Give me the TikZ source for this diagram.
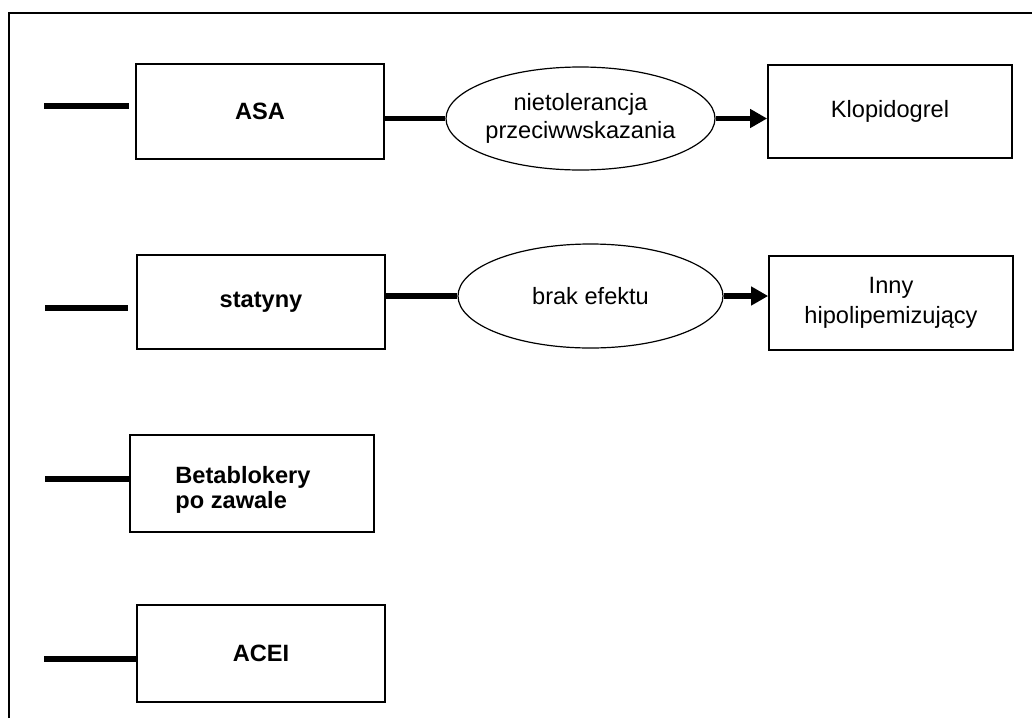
\documentclass[tikz,border=0pt]{standalone}
\usepackage{fontspec}
\setmainfont{Liberation Sans}
\usepackage{tikz}
\usetikzlibrary{shapes.geometric,arrows.meta}

\tikzset{
  drug/.style={draw, line width=0.85pt, rectangle, minimum width=124pt, minimum height=47.5pt,
    font=\fontsize{11.8pt}{12.5pt}\selectfont\bfseries},
  alt/.style={draw, line width=0.85pt, rectangle, minimum width=122pt, minimum height=47pt,
    align=center, font=\fontsize{11.8pt}{15pt}\selectfont},
  cause/.style={draw, line width=0.6pt, ellipse, inner sep=0pt, align=center,
    font=\fontsize{11.8pt}{14pt}\selectfont},
  bar/.style={line width=2.6pt},
  barto/.style={bar, -{Triangle[length=8.5pt,width=9pt]}}
}

\begin{document}
\begin{tikzpicture}[x=0.5pt,y=-0.5pt]
\useasboundingbox (0,0) rectangle (1032,718);
% frame
\draw[line width=0.75pt] (9,718) -- (9,13) -- (1032,13);

% row 1
\node[drug] (asa) at (260,111.5) {ASA};
\node[cause, minimum width=134.5pt, minimum height=51.5pt] (ell1) at (580.5,118.5)
  {nietolerancja\\przeciwwskazania};
\node[alt, minimum height=46.5pt] (klop) at (890,111.5) {Klopidogrel};
\coordinate (s1) at (44,106);
\draw[bar, shorten >=3pt] (s1) -- (asa.west |- s1);
\draw[bar] (asa.east |- ell1) -- (ell1.west);
\draw[barto] (ell1.east) -- (klop.west |- ell1.east);

% row 2
\node[drug, minimum height=47pt] (stat) at (261,302) {statyny};
\node[cause, minimum width=132.5pt, minimum height=52pt] (ell2) at (590.5,296) {brak efektu};
\node[alt] (inny) at (891,303) {Inny\\hipolipemizujący};
\coordinate (s2) at (45,308);
\draw[bar, shorten >=4pt] (s2) -- (stat.west |- s2);
\draw[bar] (stat.east |- ell2) -- (ell2.west);
\draw[barto] (ell2.east) -- (inny.west |- ell2.east);

% row 3
\node[drug, minimum width=122pt, minimum height=48.5pt] (beta) at (252,483.5) {};
\node[font=\fontsize{11.8pt}{12.5pt}\selectfont\bfseries, align=left] (betatxt) at (243,490)
  {Betablokery\\po zawale};
\coordinate (s3) at (45,479);
\draw[bar] (s3) -- (beta.west |- s3);

% row 4
\node[drug, minimum height=48.5pt] (acei) at (261,653.5) {ACEI};
\coordinate (s4) at (44,659);
\draw[bar] (s4) -- (acei.west |- s4);
\end{tikzpicture}
\end{document}
